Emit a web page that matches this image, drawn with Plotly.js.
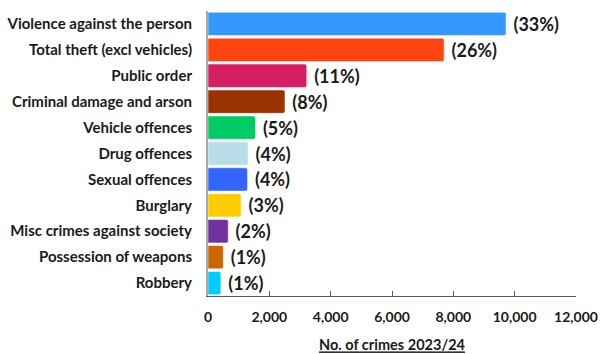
<!DOCTYPE html>
<html>
<head>
<meta charset="utf-8">
<script src="https://cdn.plot.ly/plotly-3.0.1.min.js"></script>
<style>html,body{margin:0;padding:0;background:#fff;}#chart{width:600px;height:354px;}</style>
</head>
<body>
<div id="chart"></div>
<script>
var categories = ["Violence against the person","Total theft (excl vehicles)","Public order","Criminal damage and arson","Vehicle offences","Drug offences","Sexual offences","Burglary","Misc crimes against society","Possession of weapons","Robbery"];
var crimes = [9720, 7700, 3220, 2510, 1550, 1310, 1290, 1080, 660, 500, 420];
var shares = ["(33%)","(26%)","(11%)","(8%)","(5%)","(4%)","(4%)","(3%)","(2%)","(1%)","(1%)"];
var colors = ["#3399FF","#FF4411","#D61F63","#993300","#00CC66","#B7DDE8","#3366FF","#FFCC00","#7030A0","#CC6600","#00CCFF"];
var tickVals = [0,2000,4000,6000,8000,10000,12000];
var tickText = ["0","2,000","4,000","6,000","8,000","10,000","12,000"];

var trace = {
  type: "bar",
  orientation: "h",
  y: categories,
  x: crimes,
  text: shares.map(function(s){return " " + s;}),
  textposition: "outside",
  cliponaxis: false,
  textfont: {family: "Lato, 'Liberation Sans', sans-serif", size: 18, color: "#1a1a1a", weight: 700},
  marker: {color: colors, line: {color: "#ffffff", width: 0.5}},
  hoverinfo: "none"
};

var layout = {
  width: 600, height: 354,
  margin: {l: 208, r: 24, t: 11, b: 58},
  paper_bgcolor: "#ffffff", plot_bgcolor: "#ffffff",
  showlegend: false,
  bargap: 0.1,
  barcornerradius: 2,
  font: {family: "Lato, 'Liberation Sans', sans-serif", color: "#1a1a1a"},
  xaxis: {
    range: [0, 12000],
    tickvals: tickVals, ticktext: tickText,
    ticks: "inside", ticklen: 5, tickcolor: "#595959", tickwidth: 1,
    showline: true, linecolor: "#595959", linewidth: 1,
    showgrid: false, zeroline: false,
    tickfont: {size: 14, weight: 700, color: "#1a1a1a"},
    ticklabelstandoff: 8,
    title: {text: "<span style='text-decoration:underline'>No. of crimes 2023/24</span>", font: {size: 14.5, weight: 700, color: "#1a1a1a"}, standoff: 16}
  },
  yaxis: {
    autorange: "reversed",
    showline: true, linecolor: "#A6A6A6", linewidth: 2,
    ticks: "", showgrid: false, zeroline: false,
    tickfont: {size: 15, weight: 700, color: "#1a1a1a"},
    ticklabelstandoff: 11
  }
};

Plotly.newPlot("chart", [trace], layout, {displayModeBar: false, staticPlot: true});
</script>
</body>
</html>
